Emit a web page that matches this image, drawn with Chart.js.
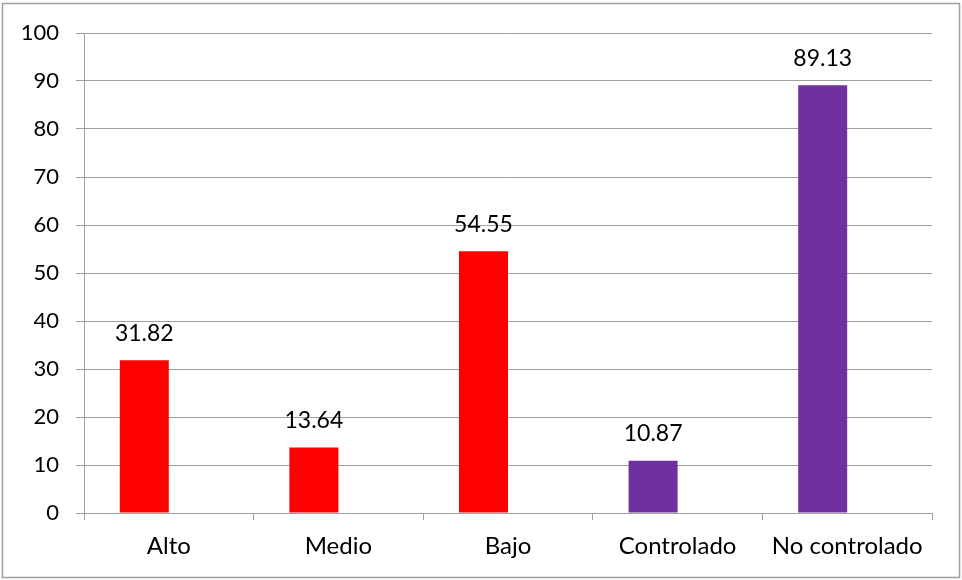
<!DOCTYPE html>
<html>
<head>
<meta charset="utf-8">
<script src="https://cdn.jsdelivr.net/npm/chart.js@4"></script>
<style>
html,body{margin:0;padding:0;background:#fff;}
#wrap{position:relative;width:962px;height:580px;}
</style>
</head>
<body>
<div id="wrap"><canvas id="c" width="962" height="580"></canvas></div>
<script>
const categories = ["Alto", "Medio", "Bajo", "Controlado", "No controlado"];
const values = [31.82, 13.64, 54.55, 10.87, 89.13];
const emptySeries = [null, null, null, null, null];
const valueLabels = ["31.82", "13.64", "54.55", "10.87", "89.13"];
const barColors = ["#FF0000", "#FF0000", "#FF0000", "#7030A0", "#7030A0"];
const yTicks = [0, 10, 20, 30, 40, 50, 60, 70, 80, 90, 100];

const FONT = "Lato, 'Open Sans', sans-serif";

const frameAndLabels = {
  id: 'frameAndLabels',
  beforeDraw(chart) {
    const ctx = chart.ctx;
    ctx.save();
    ctx.fillStyle = '#fff';
    ctx.fillRect(0, 0, chart.width, chart.height);
    ctx.strokeStyle = '#a0a0a0';
    ctx.lineWidth = 1.5;
    ctx.strokeRect(2.5, 3.5, 957, 574);
    ctx.restore();
  },
  afterDatasetsDraw(chart) {
    const ctx = chart.ctx;
    const meta = chart.getDatasetMeta(0);
    ctx.save();
    ctx.font = "23px " + FONT;
    ctx.fillStyle = '#000';
    ctx.textAlign = 'center';
    ctx.textBaseline = 'middle';
    meta.data.forEach((bar, i) => {
      ctx.fillText(valueLabels[i], bar.x, bar.y - 27);
    });
    ctx.restore();
  }
};

new Chart(document.getElementById('c'), {
  type: 'bar',
  data: {
    labels: categories,
    datasets: [{
      data: values,
      backgroundColor: barColors,
      borderWidth: 0,
      barPercentage: 1.0,
      categoryPercentage: 0.578
    }, {
      data: emptySeries,
      backgroundColor: 'rgba(0,0,0,0)',
      borderWidth: 0,
      barPercentage: 1.0,
      categoryPercentage: 0.578
    }]
  },
  options: {
    responsive: false,
    animation: false,
    devicePixelRatio: 1,
    layout: { padding: { top: 33, right: 30, left: 0, bottom: 0 } },
    plugins: { legend: { display: false }, tooltip: { enabled: false } },
    scales: {
      x: {
        grid: { display: true, drawOnChartArea: false, drawTicks: true, tickLength: 7, color: '#a0a0a0', offset: true },
        border: { display: true, color: '#a0a0a0', width: 1 },
        ticks: { color: '#000', font: { family: FONT, size: 24 }, padding: 12, maxRotation: 0, autoSkip: false },
        afterFit(s) { s.height = 67; }
      },
      y: {
        min: 0, max: 100,
        afterBuildTicks(s) { s.ticks = yTicks.map(v => ({ value: v })); },
        grid: { color: '#a0a0a0', tickLength: 8, drawTicks: true },
        border: { display: true, color: '#a0a0a0', width: 1 },
        ticks: { color: '#000', font: { family: FONT, size: 22 }, padding: 17 },
        afterFit(s) { s.width = 84; }
      }
    }
  },
  plugins: [frameAndLabels]
});
</script>
</body>
</html>
